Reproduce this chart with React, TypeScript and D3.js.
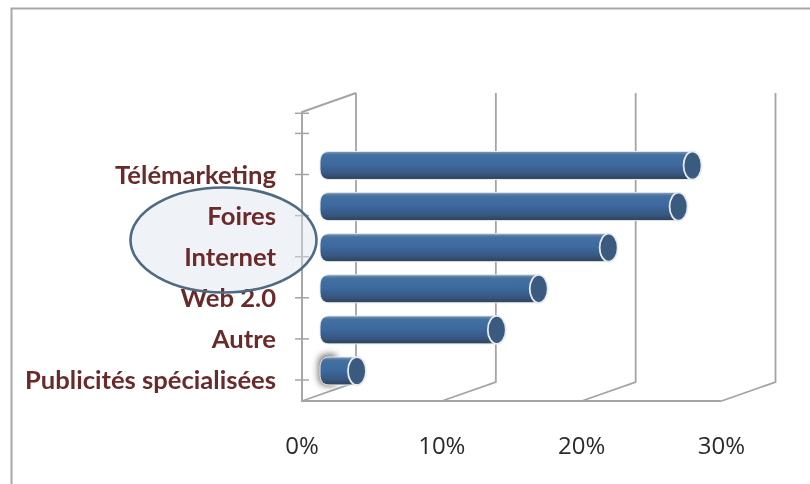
import React from "react";
import * as d3 from "d3";

const categories = ["Publicités spécialisées", "Autre", "Web 2.0", "Internet", "Foires", "Télémarketing"];
const values = [2, 12, 15, 20, 25, 26];
const xTicks = [0, 10, 20, 30];
const extraTickSlots = [6, 6.49];

const W = 810, H = 484;
const x = d3.scaleLinear().domain([0, 30]).range([302, 721.5]);
const slot = d3.scaleLinear().domain([0, 5]).range([380, 174.5]);
const depth = 54, rise = 19;
const floorY = 401, backTop = 93, frontTop = 112;
const barOffsetX = 27, barOffsetY = -9;
const capRx = 9, capRy = 14;
const gridColor = "#a4a4a4";

function barPath(x0: number, x1: number, cy: number, ry = capRy) {
  const p = d3.path();
  const r = 11;
  p.moveTo(x1, cy - ry);
  p.lineTo(x0 + capRx, cy - ry);
  p.bezierCurveTo(x0 + 3, cy - ry, x0, cy - ry + 4, x0, cy - ry + r);
  p.lineTo(x0, cy + ry - r);
  p.bezierCurveTo(x0, cy + ry - 4, x0 + 3, cy + ry, x0 + capRx, cy + ry);
  p.lineTo(x1, cy + ry);
  p.closePath();
  return p.toString();
}

export default function App() {
  const ticks = [...categories.map((_, i) => slot(i)), ...extraTickSlots.map((s) => slot(s))];
  const ellipse = { cx: 223.5, cy: 240, rx: 93, ry: 52.5 };
  return (
    <svg width={W} height={H} viewBox={`0 0 ${W} ${H}`} style={{ position: "absolute", left: 0, top: 0, background: "#fff" }}>
      <defs>
        <linearGradient id="barFill" x1="0" y1="0" x2="0" y2="1">
          <stop offset="0" stopColor="#7f9aba" />
          <stop offset="0.12" stopColor="#44709f" />
          <stop offset="0.45" stopColor="#3c6aa0" />
          <stop offset="0.8" stopColor="#375780" />
          <stop offset="0.96" stopColor="#30465f" />
          <stop offset="1" stopColor="#66778a" />
        </linearGradient>
        <filter id="soft" x="-5%" y="-5%" width="110%" height="110%">
          <feGaussianBlur stdDeviation="0.5" />
        </filter>
        <filter id="glow" x="-100%" y="-100%" width="300%" height="300%">
          <feGaussianBlur stdDeviation="3" />
        </filter>
      </defs>
      <g filter="url(#soft)">
        <path d={`M11.5,484V8.5H810`} fill="none" stroke="#a8a8a8" strokeWidth={2} />
        {xTicks.map((t) => (
          <path
            key={t}
            d={`M${x(t) + depth},${backTop}V${floorY - rise}L${x(t)},${floorY}`}
            fill="none"
            stroke={gridColor}
            strokeWidth={1.8}
          />
        ))}
        <path
          d={`M${x(0) + depth},${backTop}L${x(0)},${frontTop}V${floorY}H${x(30)}`}
          fill="none"
          stroke={gridColor}
          strokeWidth={1.9}
        />
        {ticks.map((y, i) => (
          <line key={i} x1={295} x2={309} y1={y} y2={y} stroke={gridColor} strokeWidth={1.5} />
        ))}
        <ellipse {...ellipse} fill="#dbe4ee" fillOpacity={0.45} stroke="none" />
        {categories.map((c, i) => (
          <text
            key={c}
            x={276}
            y={slot(i) + 9}
            textAnchor="end"
            fontFamily="Lato"
            fontWeight={700}
            fontSize={25.6}
            fill="#6b2a2c"
          >
            {c}
          </text>
        ))}
        {xTicks.map((t) => (
          <text key={t} x={x(t)} y={454} textAnchor="middle" fontFamily="'Open Sans'" fontSize={24} fill="#2b2b2b">
            {d3.format(".0%")(t / 100)}
          </text>
        ))}
        {values.map((v, i) => {
          const cy = slot(i) + barOffsetY;
          const x0 = x(0) + barOffsetX - capRx;
          const x1 = x(v) + barOffsetX;
          return (
            <g key={categories[i]}>
              {i === 0 && (
                <path d={barPath(x0 - 2, x0 + 16, cy - 1, capRy + 2)} fill="#555" opacity={0.8} filter="url(#glow)" />
              )}
              <path d={barPath(x0, x1, cy)} fill="url(#barFill)" stroke="#e4e8ec" strokeWidth={1} />
              <ellipse cx={x1} cy={cy} rx={capRx} ry={capRy} fill="#3b5a80" stroke="#e6eaee" strokeWidth={1.8} />
            </g>
          );
        })}
        <ellipse {...ellipse} fill="none" stroke="#4f6b82" strokeWidth={2.6} />
      </g>
    </svg>
  );
}
